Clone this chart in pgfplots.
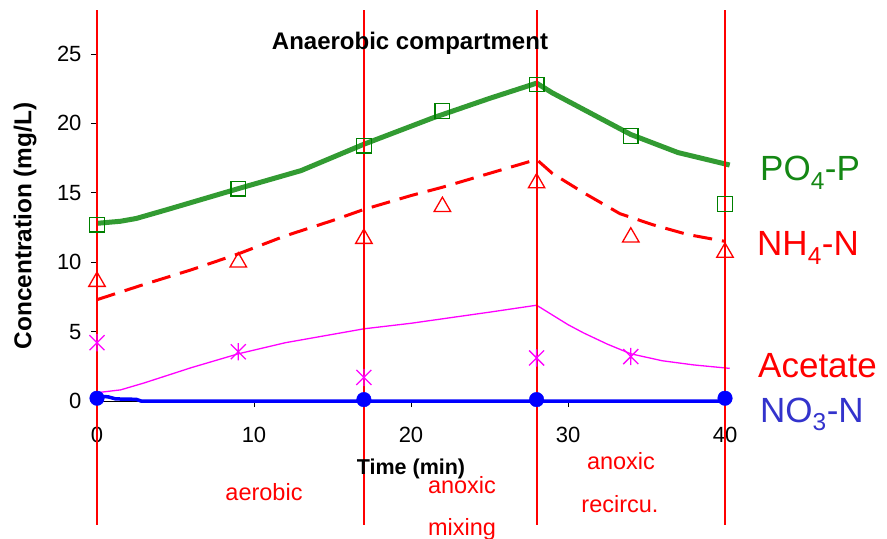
\documentclass[border=0pt]{standalone}
\usepackage{fontspec}
\setmainfont{Liberation Sans}
\usepackage{pgfplots}
\pgfplotsset{compat=1.18}
\definecolor{pogreen}{RGB}{50,155,50}
\definecolor{podark}{RGB}{0,128,0}
\definecolor{labgreen}{RGB}{20,135,20}
\definecolor{labblue}{RGB}{51,51,204}
\definecolor{acmag}{RGB}{255,0,255}
\pgfdeclareplotmark{xstar}{%
  \pgfpathmoveto{\pgfqpoint{-\pgfplotmarksize}{-\pgfplotmarksize}}%
  \pgfpathlineto{\pgfqpoint{\pgfplotmarksize}{\pgfplotmarksize}}%
  \pgfpathmoveto{\pgfqpoint{-\pgfplotmarksize}{\pgfplotmarksize}}%
  \pgfpathlineto{\pgfqpoint{\pgfplotmarksize}{-\pgfplotmarksize}}%
  \pgfpathmoveto{\pgfqpoint{0pt}{-1.15\pgfplotmarksize}}%
  \pgfpathlineto{\pgfqpoint{0pt}{1.15\pgfplotmarksize}}%
  \pgfusepathqstroke}
\begin{document}
\begin{tikzpicture}
\begin{axis}[
  x=15.7bp, y=13.88bp,
  xmin=0, xmax=40, ymin=0, ymax=25,
  enlargelimits=false,
  clip=false,
  axis x line=bottom, axis y line=left,
  axis line style={-, black, line width=0.8bp},
  xtick={0,10,20,30,40}, ytick={0,5,10,15,20,25},
  tick align=outside, major tick length=6bp,
  tick style={black, line width=0.8bp},
  /pgf/number format/assume math mode=true,
  tick label style={font=\fontsize{22bp}{25bp}\selectfont},
  xticklabel style={yshift=-17bp},
  yticklabel style={xshift=-6bp},
]
% PO4-P model
\addplot[pogreen, line width=5bp, line join=round] coordinates {
 (0,12.8) (1.5,12.95) (2.5,13.15) (4.5,13.8) (6.6,14.5) (9,15.3) (13,16.6) (17,18.5)
 (21.4,20.4) (25,21.8) (28,22.9) (29,22.2) (31,21.0) (34,19.2) (37,17.9) (40.3,17.0)};
% NH4-N model
\addplot[red, line width=3bp, dash pattern=on 19bp off 10bp] coordinates {
 (0,7.3) (3,8.4) (6,9.45) (9,10.6) (12,11.9) (15,13.0) (17,13.8) (20,14.8)
 (22,15.4) (25,16.4) (28,17.4) (29,16.4) (31,15.0) (33.3,13.5) (35.4,12.7)
 (37.6,12.0) (40,11.5)};
% Acetate model
\addplot[acmag, line width=1.3bp] coordinates {
 (0,0.6) (1.5,0.8) (3,1.3) (6,2.4) (9,3.4) (12,4.2) (15,4.8) (17,5.2) (20,5.6)
 (22.5,6.0) (25,6.4) (28,6.9) (29,6.2) (30,5.5) (31,4.9) (32.5,4.1) (34,3.4)
 (36,2.9) (38,2.6) (40.3,2.35)};
% NO3-N model
\addplot[blue, line width=3.5bp] coordinates {
 (0,0.35) (0.7,0.3) (1.2,0.15) (2.5,0.12) (2.8,0.0) (40,0.0)};
% PO4 data
\addplot[only marks, mark=square, mark size=7.3bp, podark, mark options={line width=1.3bp}] coordinates {
 (0,12.7) (9,15.3) (17,18.4) (22,20.9) (28,22.8) (34,19.1) (40,14.2)};
% NH4 data
\addplot[only marks, mark=triangle, mark size=9.5bp, red, mark options={line width=1.3bp}] coordinates {
 (0,8.6) (9,10.0) (17,11.7) (22,14.0) (28,15.7) (34,11.8) (40,10.7)};
% Acetate data
\addplot[only marks, mark=xstar, mark size=7.5bp, acmag, mark options={line width=1.3bp}] coordinates {
 (0,4.2) (9,3.55) (17,1.7) (28,3.1) (34,3.2)};
% NO3 data
\addplot[only marks, mark=*, mark size=7.3bp, blue] coordinates {
 (0,0.2) (17,0.1) (28,0.1) (40,0.2)};
% phase boundaries
\addplot[red, line width=2bp] coordinates {(0,-8.93) (0,28.17)};
\addplot[red, line width=2bp] coordinates {(17,-8.93) (17,28.17)};
\addplot[red, line width=2bp] coordinates {(28,-8.93) (28,28.17)};
\addplot[red, line width=2bp] coordinates {(40,-8.93) (40,28.17)};
\coordinate (O) at (axis cs:0,0);
\end{axis}
% title and axis labels
\node[anchor=base, font=\fontsize{24bp}{28bp}\selectfont\bfseries] at ([shift={(313bp,351bp)}]O) {Anaerobic compartment};
\node[anchor=base, font=\fontsize{21.5bp}{25bp}\selectfont\bfseries] at ([shift={(314bp,-73bp)}]O) {Time (min)};
\node[rotate=90, anchor=center, font=\fontsize{24.4bp}{28bp}\selectfont\bfseries] at ([shift={(-72bp,175bp)}]O) {Concentration (mg/L)};
% phase labels
\begin{scope}[every node/.style={anchor=base, text=red, font=\fontsize{23.5bp}{27bp}\selectfont}]
\node at ([shift={(167bp,-99bp)}]O) {aerobic};
\node at ([shift={(365bp,-92bp)}]O) {anoxic};
\node at ([shift={(365bp,-134bp)}]O) {mixing};
\node at ([shift={(524bp,-68bp)}]O) {anoxic};
\node at ([shift={(523bp,-111bp)}]O) {recircu.};
\end{scope}
% series labels
\begin{scope}[every node/.style={anchor=base west, inner sep=0pt, font=\fontsize{35bp}{40bp}\selectfont}]
\node[text=labgreen] at ([shift={(663bp,220bp)}]O) {PO\textsubscript{4}-P};
\node[text=red] at ([shift={(660bp,145bp)}]O) {NH\textsubscript{4}-N};
\node[text=red] at ([shift={(661bp,24bp)}]O) {Acetate};
\node[text=labblue] at ([shift={(663bp,-21bp)}]O) {NO\textsubscript{3}-N};
\end{scope}
\pgfresetboundingbox
\path[use as bounding box] ([shift={(-97bp,-138bp)}]O) rectangle ([shift={(790bp,401bp)}]O);
\end{tikzpicture}
\end{document}
